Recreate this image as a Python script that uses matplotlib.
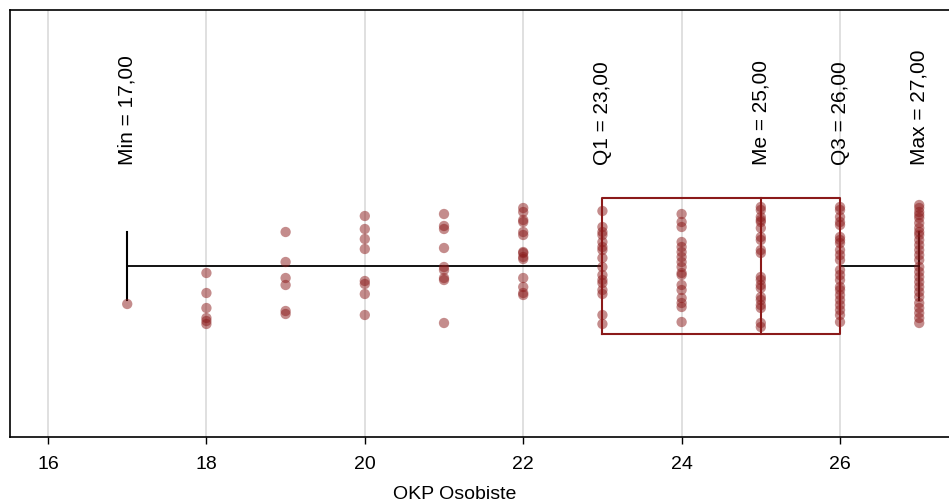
import matplotlib
matplotlib.use("Agg")
import matplotlib.pyplot as plt
import numpy as np

plt.rcParams['font.family'] = ['Liberation Sans', 'DejaVu Sans']

# Observed scores and the vertical jitter used to spread points at each value
score_values = [17, 18, 19, 20, 21, 22, 23, 24, 25, 26, 27]
jitter_offsets = [
    [-38],
    [-7, -27, -42, -52, -55, -58],
    [34, 4, -12, -19, -45, -48],
    [50, 37, 27, 17, -15, -18, -28, -49],
    [52, 40, 37, 18, -1, -4, -12, -14, -57],
    [58, 54, 46, 44, 34, 31, 14, 13, 9, 7, -12, -21, -27, -29],
    [55, 39, 34, 31, 24, 19, 16, 8, -1, -9, -14, -17, -24, -28, -49, -58],
    [52, 44, 39, 24, 19, 14, 9, 4, -1, -7, -9, -19, -24, -32, -37, -41, -56],
    [59, 56, 49, 46, 44, 38, 29, 26, 16, 13, -11, -14, -19, -22, -31, -34,
     -39, -42, -57, -61],
    [59, 56, 49, 44, 41, 29, 26, 23, 16, 11, 6, -4, -9, -14, -21, -24, -29,
     -34, -39, -44, -49, -56],
    [61, 58, 54, 51, 48, 43, 38, 34, 31, 26, 21, 16, 11, 6, -1, -6, -11, -16,
     -21, -26, -31, -37, -42, -47, -52, -57],
]

# Five-number summary
stat_names = ["Min", "Q1", "Me", "Q3", "Max"]
stat_values = [17.0, 23.0, 25.0, 26.0, 27.0]

xlabel = "OKP Osobiste"
xticks = [16, 18, 20, 22, 24, 26]

dark_red = "#8B1A1A"

fig = plt.figure(figsize=(9.49, 5.03), dpi=100)
ax = fig.add_axes([10 / 949, 66 / 503, 939 / 949, 427 / 503])

ax.set_xlim(15.52, 27.376)
ax.set_ylim(-171, 256)

for xv in xticks:
    ax.axvline(xv, color="#dadada", lw=1.2, zorder=0)

# Jittered points
for xv, offs in zip(score_values, jitter_offsets):
    ax.scatter(np.full(len(offs), xv), offs, s=55, color=dark_red,
               alpha=0.5, edgecolors="none", zorder=3)

mn, q1, med, q3, mx = stat_values
box_half = 68
cap_half = 34

# Whiskers and caps
ax.plot([mn, q1], [0, 0], color="black", lw=1.3, zorder=2)
ax.plot([q3, mx], [0, 0], color="black", lw=1.3, zorder=2)
ax.plot([mn, mn], [-cap_half, cap_half], color="black", lw=1.5, zorder=2)
ax.plot([mx, mx], [-cap_half, cap_half], color="black", lw=1.5, zorder=2)

# Box and median
ax.plot([q1, q3, q3, q1, q1], [-box_half, -box_half, box_half, box_half, -box_half],
        color=dark_red, lw=1.5, zorder=2)
ax.plot([med, med], [-box_half, box_half], color=dark_red, lw=1.5, zorder=2)

# Rotated statistic labels
for name, val in zip(stat_names, stat_values):
    ax.text(val, 101, f"{name} = {val:.2f}".replace(".", ","), rotation=90,
            ha="center", va="bottom", fontsize=15, color="black")

ax.set_xticks(xticks)
ax.set_xticklabels([str(t) for t in xticks], fontsize=14)
ax.set_yticks([])
ax.tick_params(axis="x", direction="out", length=5, width=1, pad=9)
ax.set_xlabel(xlabel, fontsize=14)
ax.xaxis.set_label_coords(0.4733, -0.115)
for sp in ax.spines.values():
    sp.set_color("black")
    sp.set_linewidth(1.2)
ax.spines["right"].set_visible(False)

fig.savefig("out.png", dpi=100)
